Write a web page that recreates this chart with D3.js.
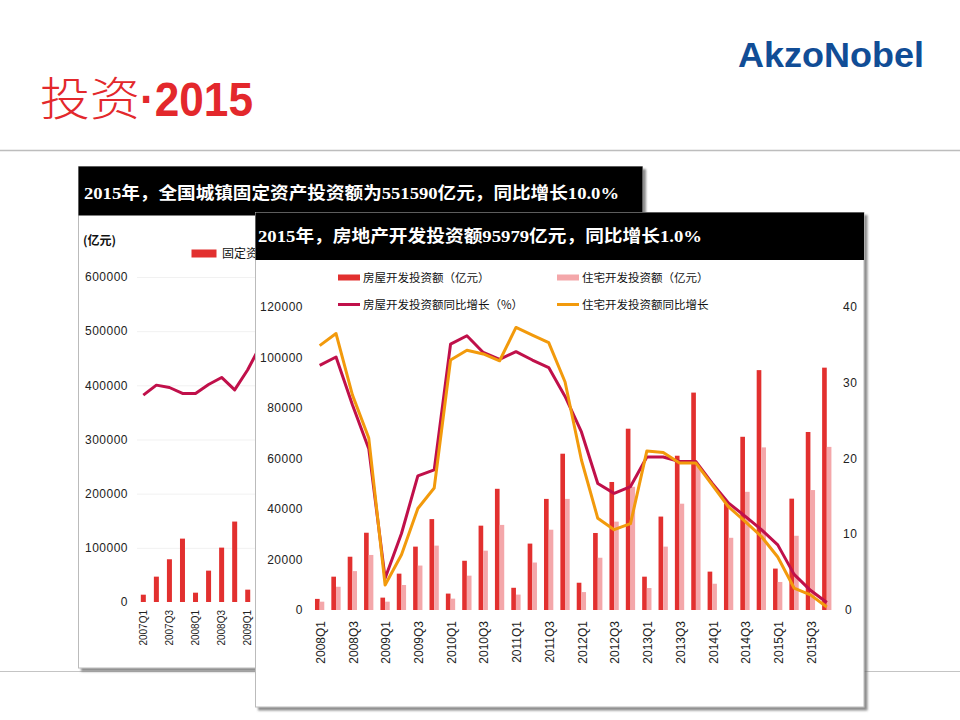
<!DOCTYPE html>
<html><head><meta charset="utf-8">
<script src="https://cdn.jsdelivr.net/npm/d3@7"></script>
<style>
html,body{margin:0;padding:0;background:#fff;}
svg{display:block;}
</style></head>
<body>
<svg id="c" width="960" height="720"></svg>
<script>
// ---------- data ----------
// Panel 2: real estate development investment (cumulative, 亿元) and YoY growth (%)
const quarters = ["2008Q1","2008Q2","2008Q3","2008Q4","2009Q1","2009Q2","2009Q3","2009Q4",
  "2010Q1","2010Q2","2010Q3","2010Q4","2011Q1","2011Q2","2011Q3","2011Q4",
  "2012Q1","2012Q2","2012Q3","2012Q4","2013Q1","2013Q2","2013Q3","2013Q4",
  "2014Q1","2014Q2","2014Q3","2014Q4","2015Q1","2015Q2","2015Q3","2015Q4"];
const houseInv = [4400,13200,21100,30600,4900,14400,25100,36000,
  6500,19500,33400,48000,8800,26300,44000,61900,
  10800,30500,50700,71800,13200,37000,61100,86100,
  15200,42200,68600,95000,16400,44100,70500,95979];
const residInv = [3300,9200,15400,21800,3300,9900,17600,25500,
  4500,13600,23500,33700,6100,18800,31800,44000,
  7100,20700,35000,48800,8700,25100,42100,57000,
  10400,28600,46800,64400,11100,29400,47500,64600];
const houseGrowth = [32.3,33.4,27.1,21.3,4.2,10.1,17.7,18.5,
  35.1,36.2,34.0,33.1,34.1,33.0,32.0,28.2,
  23.5,16.7,15.4,16.3,20.2,20.2,19.6,19.6,
  16.7,14.1,12.4,10.6,8.6,4.7,2.6,1.0];
const residGrowth = [34.9,36.5,28.4,22.7,3.3,7.3,13.4,16.1,
  33.0,34.3,33.8,32.9,37.3,36.3,35.3,30.1,
  19.8,12.1,10.6,11.4,21.0,20.8,19.4,19.4,
  16.5,13.6,11.7,9.7,7.0,2.9,2.0,0.4];
const leftTicks2 = [0,20000,40000,60000,80000,100000,120000];
const rightTicks2 = [0,10,20,30,40];
const xTickLabels2 = quarters.filter(q => q.endsWith("Q1") || q.endsWith("Q3"));
const legend2 = ["房屋开发投资额（亿元）","住宅开发投资额（亿元）","房屋开发投资额同比增长（%）","住宅开发投资额同比增长"];

// Panel 1: fixed asset investment (visible part only)
const quarters1 = ["2007Q1","2007Q2","2007Q3","2007Q4","2008Q1","2008Q2","2008Q3","2008Q4","2009Q1","2009Q2"];
const faiValues = [13500,46800,78900,117000,17200,57900,100400,148500,22800,null];
const faiGrowth = [25.0,26.7,26.3,25.3,25.3,26.8,28.0,25.9,29.3,33.5];
const leftTicks1 = [0,100000,200000,300000,400000,500000,600000];
const xTickLabels1 = ["2007Q1","2007Q3","2008Q1","2008Q3","2009Q1"];

const title1 = "2015年，全国城镇固定资产投资额为551590亿元，同比增长10.0%";
const title2 = "2015年，房地产开发投资额95979亿元，同比增长1.0%";

// ---------- styles ----------
const RED = "#e2302f", PINK = "#f4a7aa", CRIMSON = "#c0104a", ORANGE = "#f29a0c";
const SANS = "'Liberation Sans', Arial, 'Noto Sans CJK SC', sans-serif";
const CJK = "'Noto Sans CJK SC', sans-serif";
const HEAD = "'Liberation Serif', 'Noto Sans CJK SC', serif";

const svg = d3.select("#c");
const defs = svg.append("defs");
const f = defs.append("filter").attr("id","sh").attr("x","-5%").attr("y","-5%").attr("width","115%").attr("height","115%");
f.append("feDropShadow").attr("dx",3).attr("dy",3).attr("stdDeviation",1.2)
  .attr("flood-color","#666").attr("flood-opacity",0.75);

// slide lines
svg.append("line").attr("x1",0).attr("x2",960).attr("y1",150.5).attr("y2",150.5)
  .attr("stroke","#bdbdbd").attr("stroke-width",1.5);
svg.append("line").attr("x1",0).attr("x2",960).attr("y1",671.5).attr("y2",671.5)
  .attr("stroke","#c4c4c4").attr("stroke-width",1.2);

// slide title
svg.append("text").attr("x",40).attr("y",115).attr("font-family",CJK).attr("font-weight",300)
  .attr("font-size",46).attr("fill","#e3282c").attr("textLength",100).attr("lengthAdjust","spacingAndGlyphs")
  .text("投资");
svg.append("text").attr("x",140).attr("y",115.5).attr("font-family",SANS).attr("font-weight","bold")
  .attr("font-size",49).attr("fill","#e3282c").attr("textLength",113).attr("lengthAdjust","spacingAndGlyphs")
  .text("·2015");
// logo
svg.append("text").attr("x",738).attr("y",66.5).attr("font-family",SANS).attr("font-weight","bold")
  .attr("font-size",35).attr("fill","#114d96").attr("textLength",186).attr("lengthAdjust","spacingAndGlyphs")
  .text("AkzoNobel");

// ================= Panel 1 =================
const p1 = svg.append("g");
p1.append("rect").attr("x",78.5).attr("y",166.5).attr("width",564).attr("height",501.5)
  .attr("fill","#fff").attr("stroke","#bbb").attr("stroke-width",1).attr("filter","url(#sh)");
p1.append("rect").attr("x",78.5).attr("y",166.5).attr("width",564).attr("height",49).attr("fill","#000");
p1.append("text").attr("x",84).attr("y",198.5).attr("font-family",HEAD).attr("font-weight","bold")
  .attr("font-size",17).attr("fill","#fff").attr("textLength",535).attr("lengthAdjust","spacingAndGlyphs")
  .text(title1);
p1.append("text").attr("x",83).attr("y",245).attr("font-family",CJK).attr("font-weight","bold")
  .attr("font-size",12).attr("fill","#111").text("(亿元)");
p1.append("rect").attr("x",191.5).attr("y",249.5).attr("width",25).attr("height",8).attr("fill",RED);
p1.append("text").attr("x",222).attr("y",258).attr("font-family",CJK).attr("font-size",12)
  .attr("fill","#111").text("固定资产投资完成额（亿元）");

const x1 = d3.scaleBand().domain(quarters1).range([136.8, 136.8 + 13.05*quarters1.length]);
const y1 = d3.scaleLinear().domain([0,600000]).range([602,277]);
const yg1 = d3.scaleLinear().domain([-10,45]).range([602,277]); // hidden growth axis

p1.append("g").selectAll("line").data(leftTicks1.filter(d=>d>0)).join("line")
  .attr("x1",137).attr("x2",642).attr("y1",d=>y1(d)+0.5).attr("y2",d=>y1(d)+0.5)
  .attr("stroke","#f1f1f1").attr("stroke-width",1);
p1.append("g").selectAll("text").data(leftTicks1).join("text")
  .attr("x",128).attr("y",d=>y1(d)).attr("dy","0.35em").attr("text-anchor","end")
  .attr("font-family",SANS).attr("font-size",12).attr("letter-spacing",0.5).attr("fill","#222")
  .text(d=>d);
p1.append("g").selectAll("rect").data(quarters1.map((q,i)=>({q,v:faiValues[i]})).filter(d=>d.v!=null)).join("rect")
  .attr("x",d=>x1(d.q)+x1.bandwidth()/2-2.5).attr("width",5)
  .attr("y",d=>y1(d.v)).attr("height",d=>y1(0)-y1(d.v)).attr("fill",RED);
p1.append("path").datum(faiGrowth)
  .attr("d",d3.line().x((d,i)=>x1(quarters1[i])+x1.bandwidth()/2).y(d=>yg1(d)))
  .attr("fill","none").attr("stroke",CRIMSON).attr("stroke-width",3).attr("stroke-linejoin","round");
p1.append("g").selectAll("text").data(xTickLabels1).join("text")
  .attr("transform",d=>`translate(${x1(d)+x1.bandwidth()/2},610) rotate(-90)`)
  .attr("text-anchor","end").attr("dy","0.35em")
  .attr("font-family",SANS).attr("font-size",10).attr("fill","#222").text(d=>d);

// ================= Panel 2 =================
const p2 = svg.append("g");
p2.append("rect").attr("x",255.5).attr("y",212.5).attr("width",608.5).attr("height",494.5)
  .attr("fill","#fff").attr("stroke","#bbb").attr("stroke-width",1).attr("filter","url(#sh)");
p2.append("rect").attr("x",255.5).attr("y",212.5).attr("width",608.5).attr("height",47.5).attr("fill","#000");
p2.append("text").attr("x",258).attr("y",242).attr("font-family",HEAD).attr("font-weight","bold")
  .attr("font-size",17).attr("fill","#fff").attr("textLength",444).attr("lengthAdjust","spacingAndGlyphs")
  .text(title2);

const x2 = d3.scaleBand().domain(quarters).range([311.5, 835]);
const sub = d3.scaleBand().domain(["house","resid"]).range([-4.7, 4.6]);
const y2 = d3.scaleLinear().domain([0,120000]).range([610,307]);
const yr2 = d3.scaleLinear().domain([0,40]).range([610,307]);
const cx = q => x2(q) + x2.bandwidth()/2;

// legend
const lg = p2.append("g").attr("font-family",CJK).attr("font-size",11.5).attr("fill","#111");
const legPos = [[338,277.5],[557,277.5],[338,304.5],[557,304.5]];
lg.append("rect").attr("x",338).attr("y",274.5).attr("width",22).attr("height",6).attr("fill",RED);
lg.append("rect").attr("x",557).attr("y",274.5).attr("width",22).attr("height",6).attr("fill",PINK);
lg.append("line").attr("x1",338).attr("x2",360).attr("y1",304.5).attr("y2",304.5).attr("stroke",CRIMSON).attr("stroke-width",3);
lg.append("line").attr("x1",557).attr("x2",579).attr("y1",304.5).attr("y2",304.5).attr("stroke",ORANGE).attr("stroke-width",3);
lg.selectAll("text").data(legend2).join("text")
  .attr("x",(d,i)=>legPos[i][0]+25).attr("y",(d,i)=>legPos[i][1]).attr("dy","0.36em").text(d=>d);

// axes labels
p2.append("g").selectAll("text").data(leftTicks2).join("text")
  .attr("x",303).attr("y",d=>y2(d)).attr("dy","0.35em").attr("text-anchor","end")
  .attr("font-family",SANS).attr("font-size",12).attr("letter-spacing",0.5).attr("fill","#222").text(d=>d);
p2.append("g").selectAll("text").data(rightTicks2).join("text")
  .attr("x",d=>d===0?845:843).attr("y",d=>yr2(d)).attr("dy","0.35em").attr("text-anchor","start")
  .attr("font-family",SANS).attr("font-size",12).attr("letter-spacing",0.5).attr("fill","#222").text(d=>d);
p2.append("g").selectAll("text").data(xTickLabels2).join("text")
  .attr("transform",d=>`translate(${cx(d)+1},621) rotate(-90)`)
  .attr("text-anchor","end").attr("dy","0.35em")
  .attr("font-family",SANS).attr("font-size",12).attr("fill","#222").text(d=>d);

// bars
p2.append("g").selectAll("rect").data(quarters.map((q,i)=>({q,v:houseInv[i]}))).join("rect")
  .attr("x",d=>cx(d.q)+sub("house")).attr("width",sub.bandwidth())
  .attr("y",d=>y2(d.v)).attr("height",d=>y2(0)-y2(d.v)).attr("fill",RED);
p2.append("g").selectAll("rect").data(quarters.map((q,i)=>({q,v:residInv[i]}))).join("rect")
  .attr("x",d=>cx(d.q)+sub("resid")).attr("width",sub.bandwidth())
  .attr("y",d=>y2(d.v)).attr("height",d=>y2(0)-y2(d.v)).attr("fill",PINK);

// lines
const ln = d3.line().x((d,i)=>cx(quarters[i])).y(d=>yr2(d));
p2.append("path").datum(houseGrowth).attr("d",ln).attr("fill","none")
  .attr("stroke",CRIMSON).attr("stroke-width",3).attr("stroke-linejoin","round");
p2.append("path").datum(residGrowth).attr("d",ln).attr("fill","none")
  .attr("stroke",ORANGE).attr("stroke-width",3).attr("stroke-linejoin","round");
</script>
</body></html>
